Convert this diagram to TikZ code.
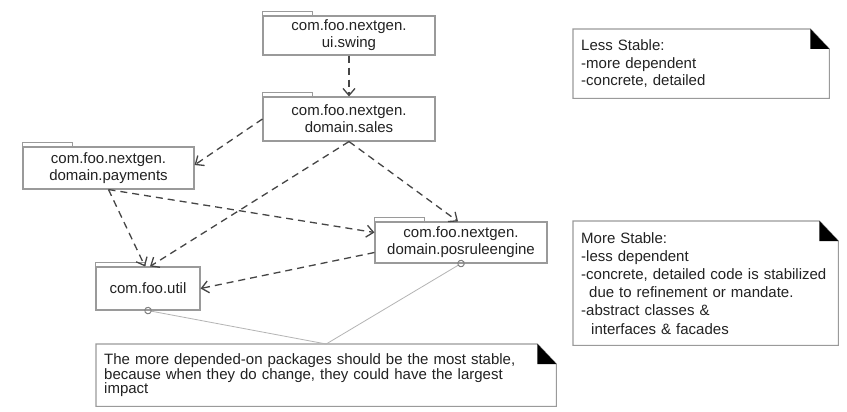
\documentclass[tikz,border=0pt]{standalone}
\usepackage{fontspec}
\setmainfont{Liberation Sans}
\usetikzlibrary{arrows.meta}
\definecolor{boxgray}{HTML}{9A9A9A}
\definecolor{dashgray}{HTML}{454545}
\definecolor{linkgray}{HTML}{B4B4B4}
\definecolor{txt}{HTML}{222222}
\begin{document}
\begin{tikzpicture}[x=1pt,y=-1pt,
  pkg/.style={draw=boxgray, line width=1.1pt, fill=white, inner sep=0pt, align=center,
    font=\fontsize{15}{17}\selectfont, text=txt},
  tab/.style={draw=boxgray, line width=1.1pt},
  dep/.style={draw=dashgray, line width=1.3pt, dash pattern=on 7pt off 5pt,
    -{Straight Barb[length=7pt,width=12pt]}},
  notebox/.style={inner xsep=8pt, inner ysep=0pt, align=left, anchor=north west, text=txt},
  noteline/.style={draw=boxgray, line width=1.1pt},
  dogear/.style={fill=black},
  notelink/.style={draw=linkgray, line width=0.8pt,
    -{Circle[open,length=7.5pt,width=7.5pt,line width=1pt,color=gray]}, shorten >=-3.75pt}
]
\useasboundingbox[fill=white] (0,0) rectangle (847,412);

% packages
\node[pkg, minimum width=172, minimum height=39] (swing) at (349,35.5) {com.foo.nextgen.\\ui.swing};
\node[pkg, minimum width=172, minimum height=44] (sales) at (349,119) {com.foo.nextgen.\\domain.sales};
\node[pkg, minimum width=171, minimum height=42] (payments) at (108.5,168) {com.foo.nextgen.\\domain.payments};
\node[pkg, minimum width=104, minimum height=43] (util) at (148,288.5) {com.foo.util};
\node[pkg, minimum width=172, minimum height=41] (posrule) at (461,242.5) {com.foo.nextgen.\\domain.posruleengine};

\foreach \p in {swing,sales,payments,util,posrule}
  \draw[tab] (\p.north west) rectangle ++(50,-4);

% dependencies
\draw[dep] (swing.south) -- (sales.north);
\draw[dep] (sales.west) -- ([yshift=3pt]payments.east);
\draw[dep] (sales.south) -- ([xshift=2pt]util.north);
\draw[dep] (payments.south) -- ([xshift=-3pt]util.north);
\draw[dep] (sales.south) -- ([xshift=-3pt]posrule.north);
\draw[dep] (payments.south) -- ([yshift=10pt]posrule.west);
\draw[dep] ([yshift=-10pt]posrule.west) -- (util.east);

% notes
\node[notebox, minimum width=256, minimum height=69, text width=240,
  font=\fontsize{15}{17.5}\selectfont] (less) at (573,29)
  {Less Stable:\\-more dependent\\-concrete, detailed};
\node[notebox, minimum width=265, minimum height=124, text width=249,
  font=\fontsize{15}{18.2}\selectfont] (more) at (573,221)
  {More Stable:\\-less dependent\\-concrete, detailed code is stabilized\\
   \hspace*{8pt}due to refinement or mandate.\\-abstract classes \&\\
   \hspace*{10pt}interfaces \& facades};
\node[notebox, minimum width=460, minimum height=62, text width=444,
  font=\fontsize{15}{14.6}\selectfont] (impact) at (96,344)
  {The more depended-on packages should be the most stable,\\
   because when they do change, they could have the largest\\impact};

\foreach \n in {less,more,impact}{
  \draw[noteline] (\n.north west) -- ([xshift=-19pt]\n.north east)
    -- ([yshift=-20pt]\n.north east) -- (\n.south east) -- (\n.south west) -- cycle;
  \fill[dogear] ([xshift=-19pt]\n.north east) -- ([yshift=-20pt]\n.north east)
    -- ([xshift=-19pt,yshift=-20pt]\n.north east) -- cycle;
}

% note links
\draw[notelink] (impact.north) -- (util.south);
\draw[notelink] (impact.north) -- (posrule.south);
\end{tikzpicture}
\end{document}
